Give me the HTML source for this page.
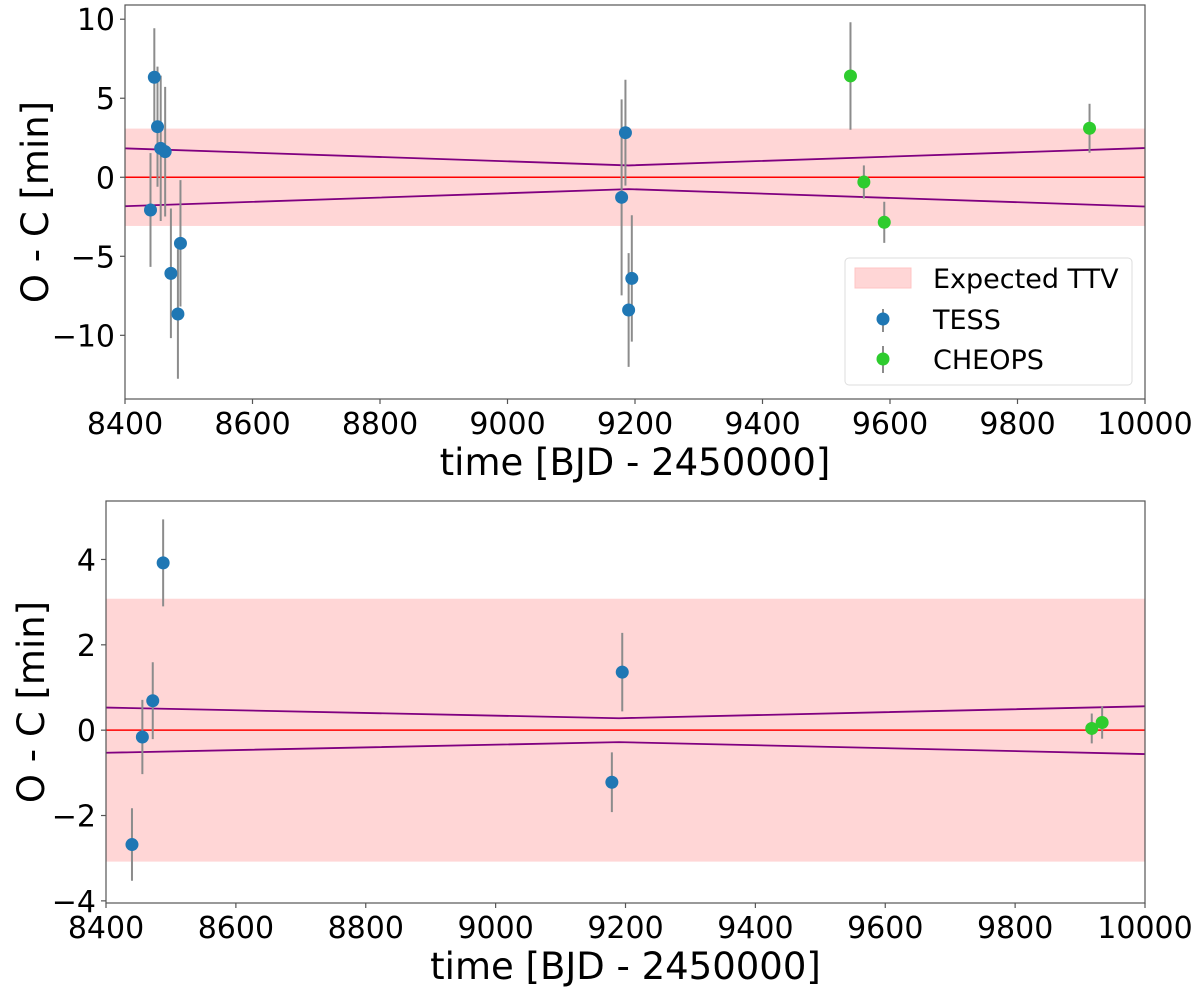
<!DOCTYPE html>
<html><head><meta charset="utf-8">
<style>
html,body{margin:0;padding:0;background:#fff;}
svg{display:block;font-family:"DejaVu Sans","Liberation Sans",sans-serif;}
</style></head>
<body>
<svg id="chart" width="1200" height="990" viewBox="0 0 1200 990" xmlns="http://www.w3.org/2000/svg"></svg>
<script>
// ---- Top panel data ----
const topTessTime = [8440, 8446, 8451, 8456, 8463, 8472, 8483, 8487, 9179, 9185, 9190, 9195];
const topTessOC   = [-2.07, 6.33, 3.2, 1.83, 1.62, -6.08, -8.65, -4.18, -1.27, 2.82, -8.4, -6.4];
const topTessErr  = [3.6, 3.1, 3.8, 4.6, 4.1, 4.1, 4.1, 4.0, 6.2, 3.35, 3.6, 4.0];
const topCheopsTime = [9538, 9559, 9591, 9913];
const topCheopsOC   = [6.41, -0.3, -2.85, 3.1];
const topCheopsErr  = [3.4, 1.05, 1.3, 1.55];
const topEnvTime = [8400, 9190, 10000];
const topEnvVal  = [1.83, 0.75, 1.85];
const topBand = 3.08;
const topYTicks = [-10, -5, 0, 5, 10];
// ---- Bottom panel data ----
const botTessTime = [8440, 8456, 8472, 8488, 9179, 9195];
const botTessOC   = [-2.68, -0.16, 0.69, 3.92, -1.22, 1.36];
const botTessErr  = [0.85, 0.87, 0.9, 1.02, 0.7, 0.92];
const botCheopsTime = [9918, 9934];
const botCheopsOC   = [0.04, 0.18];
const botCheopsErr  = [0.35, 0.38];
const botEnvTime = [8400, 9190, 10000];
const botEnvVal  = [0.53, 0.28, 0.56];
const botBand = 3.08;
const botYTicks = [-4, -2, 0, 2, 4];
const xTicks = [8400, 8600, 8800, 9000, 9200, 9400, 9600, 9800, 10000];

const NS = "http://www.w3.org/2000/svg";
const svg = document.getElementById('chart');
function mk(tag, attrs, parent) {
  const e = document.createElementNS(NS, tag);
  for (const k in attrs) e.setAttribute(k, attrs[k]);
  (parent || svg).appendChild(e);
  return e;
}

function panel(cfg) {
  const g = mk('g', {});
  
  
  const X = t => cfg.left + (t - 8400) / 1600 * (cfg.right - cfg.left);
  const Y = v => cfg.top + (cfg.ymax - v) / (cfg.ymax - cfg.ymin) * (cfg.bottom - cfg.top);
  const band = mk('rect', {x: cfg.left, y: Y(cfg.band), width: cfg.right - cfg.left, height: Y(-cfg.band) - Y(cfg.band), fill: '#ffd6d6'}, g);
  
  
  const zl = mk('line', {x1: cfg.left, x2: cfg.right, y1: Y(0), y2: Y(0), stroke: '#ff0000', 'stroke-width': 1.5}, g);
  
  
  const up = cfg.envT.map((t, i) => X(t) + ',' + Y(cfg.envV[i])).join(' ');
  const dn = cfg.envT.map((t, i) => X(t) + ',' + Y(-cfg.envV[i])).join(' ');
  const e1 = mk('polyline', {points: up, fill: 'none', stroke: '#800080', 'stroke-width': 1.8}, g);
  
  
  const e2 = mk('polyline', {points: dn, fill: 'none', stroke: '#800080', 'stroke-width': 1.8}, g);
  
  
  function series(ts, vs, es, color, nm) {
    ts.forEach((t, i) => {
      const eb = mk('line', {x1: X(t), x2: X(t), y1: Y(vs[i] + es[i]), y2: Y(vs[i] - es[i]), stroke: '#8c8c8c', 'stroke-width': 2}, g);
      
      
    });
    ts.forEach((t, i) => {
      const c = mk('circle', {cx: X(t), cy: Y(vs[i]), r: 6.5, fill: color}, g);
      
      
    });
  }
  series(cfg.tT, cfg.tV, cfg.tE, '#1f77b4', 'tess');
  series(cfg.cT, cfg.cV, cfg.cE, '#2ecc2e', 'cheops');
  const fr = mk('rect', {x: cfg.left, y: cfg.top, width: cfg.right - cfg.left, height: cfg.bottom - cfg.top, fill: 'none', stroke: '#555', 'stroke-width': 1.2}, g);
  
  
  xTicks.forEach(t => {
    mk('line', {x1: X(t), x2: X(t), y1: cfg.bottom, y2: cfg.bottom + 5, stroke: '#555', 'stroke-width': 1.2}, g);
    const tx = mk('text', {x: X(t), y: cfg.bottom + 35, 'font-size': 30, 'text-anchor': 'middle', fill: '#000'}, g);
    tx.textContent = t;
    
    
  });
  cfg.yTicks.forEach(v => {
    mk('line', {x1: cfg.left - 5, x2: cfg.left, y1: Y(v), y2: Y(v), stroke: '#555', 'stroke-width': 1.2}, g);
    const tx = mk('text', {x: cfg.left - 10, y: Y(v) + 11, 'font-size': 30, 'text-anchor': 'end', fill: '#000'}, g);
    tx.textContent = v < 0 ? '\u2212' + Math.abs(v) : String(v);
    
    
  });
  const xl = mk('text', {x: (cfg.left + cfg.right) / 2, y: cfg.bottom + 76, 'font-size': 37, 'text-anchor': 'middle', fill: '#000'}, g);
  xl.textContent = 'time [BJD - 2450000]';
  
  
  const yc = (cfg.top + cfg.bottom) / 2;
  const yl = mk('text', {x: 0, y: 0, 'font-size': 37, 'text-anchor': 'middle', fill: '#000', transform: 'translate(' + cfg.ylabelX + ',' + yc + ') rotate(-90)'}, g);
  yl.textContent = 'O - C [min]';
  
  
  return g;
}

panel({name: 'top-panel', left: 125, right: 1145, top: 5, bottom: 399, ymin: -14.03, ymax: 10.9,
  band: topBand, envT: topEnvTime, envV: topEnvVal, tT: topTessTime, tV: topTessOC, tE: topTessErr,
  cT: topCheopsTime, cV: topCheopsOC, cE: topCheopsErr, yTicks: topYTicks, ylabelX: 48});
panel({name: 'bottom-panel', left: 106, right: 1145, top: 501, bottom: 903, ymin: -4.05, ymax: 5.37,
  band: botBand, envT: botEnvTime, envV: botEnvVal, tT: botTessTime, tV: botTessOC, tE: botTessErr,
  cT: botCheopsTime, cV: botCheopsOC, cE: botCheopsErr, yTicks: botYTicks, ylabelX: 44});

const lg = mk('g', {});


mk('rect', {x: 845, y: 258, width: 287, height: 127, rx: 4, fill: '#fff', 'fill-opacity': 0.85, stroke: '#ddd', 'stroke-width': 1}, lg);
const lp = mk('rect', {x: 855, y: 268, width: 56, height: 20, fill: '#ffd6d6', stroke: '#ffc4c4'}, lg);


mk('line', {x1: 883, x2: 883, y1: 309, y2: 332, stroke: '#8c8c8c', 'stroke-width': 2}, lg);
const lc1 = mk('circle', {cx: 883, cy: 319, r: 6.5, fill: '#1f77b4'}, lg);


mk('line', {x1: 883, x2: 883, y1: 346, y2: 373, stroke: '#8c8c8c', 'stroke-width': 2}, lg);
const lc2 = mk('circle', {cx: 883, cy: 359, r: 6.5, fill: '#2ecc2e'}, lg);


[['Expected TTV', 288], ['TESS', 329], ['CHEOPS', 369]].forEach(([s, y]) => {
  const t = mk('text', {x: 933, y: y, 'font-size': 27, fill: '#000'}, lg);
  t.textContent = s;
  
  
});
</script>
</body></html>
